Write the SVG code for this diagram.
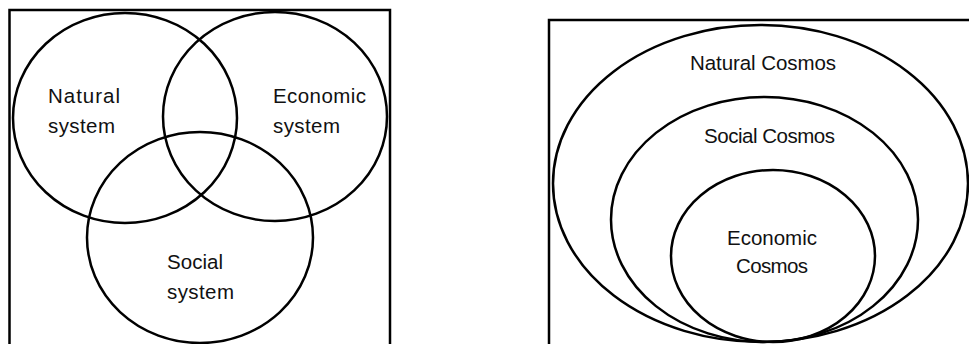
<svg xmlns="http://www.w3.org/2000/svg" width="969" height="344" viewBox="0 0 969 344">
<style>
.s{fill:none;stroke:#000;stroke-width:2.5}
.t{font-family:"Liberation Sans",Arial,sans-serif;font-size:20.5px;fill:#111}
.m{text-anchor:middle}
</style>
<rect width="969" height="344" fill="#fff"/>
<g id="left-frame"><rect class="s" x="9.5" y="10" width="380.5" height="340"/></g>
<g id="natural-system">
<ellipse class="s" cx="125" cy="118" rx="112" ry="105"/>
<text class="t" x="48" y="103" textLength="72">Natural</text>
<text class="t" x="48" y="133" textLength="67">system</text>
</g>
<g id="economic-system">
<ellipse class="s" cx="275" cy="116.5" rx="112" ry="104.5"/>
<text class="t" x="273" y="103" textLength="93">Economic</text>
<text class="t" x="273" y="133" textLength="67">system</text>
</g>
<g id="social-system">
<ellipse class="s" cx="200" cy="237.5" rx="113" ry="105.5"/>
<text class="t" x="167" y="269" textLength="56">Social</text>
<text class="t" x="167" y="299" textLength="67">system</text>
</g>
<g id="right-frame"><rect class="s" x="549" y="20" width="430" height="340"/></g>
<g id="natural-cosmos">
<ellipse class="s" cx="760.5" cy="183.5" rx="207.5" ry="158.5"/>
<text class="t m" x="763" y="70" textLength="146">Natural Cosmos</text>
</g>
<g id="social-cosmos">
<ellipse class="s" cx="764.5" cy="219.5" rx="153.5" ry="122.5"/>
<text class="t m" x="769.5" y="143" textLength="131">Social Cosmos</text>
</g>
<g id="economic-cosmos">
<ellipse class="s" cx="773" cy="256" rx="102" ry="86"/>
<text class="t m" x="772" y="245" textLength="90">Economic</text>
<text class="t m" x="772" y="273" textLength="72">Cosmos</text>
</g>
</svg>
